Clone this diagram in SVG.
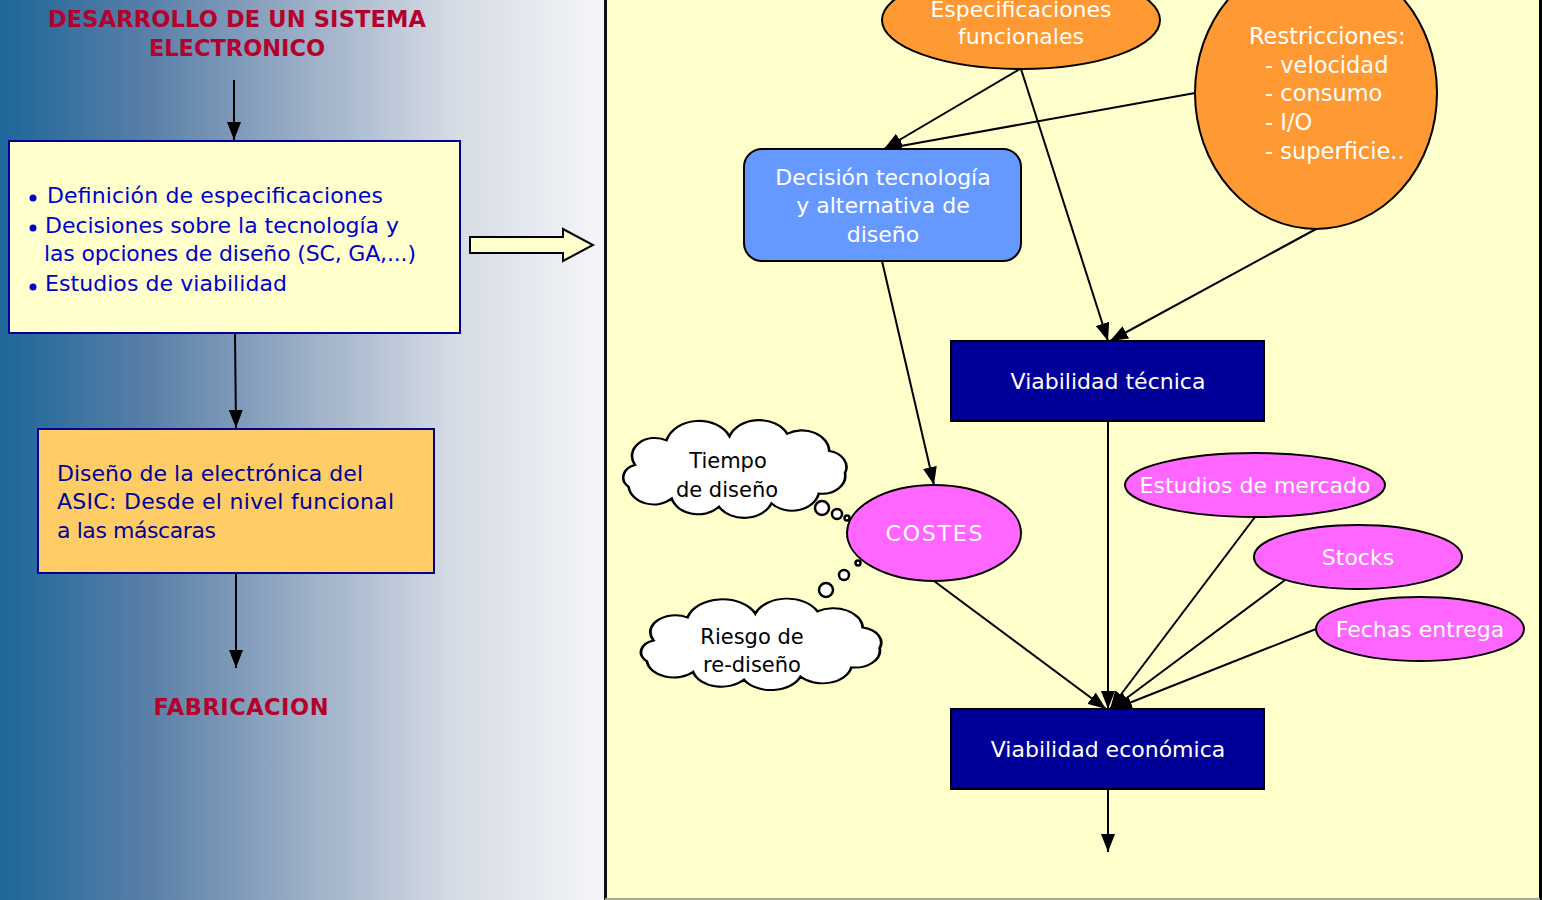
<svg xmlns="http://www.w3.org/2000/svg" width="1542" height="900" viewBox="0 0 1542 900">
<defs>
<linearGradient id="bg" x1="0" y1="0" x2="604" y2="0" gradientUnits="userSpaceOnUse">
<stop offset="0" stop-color="#1e6699"/>
<stop offset="0.25" stop-color="#5a80a8"/>
<stop offset="0.5" stop-color="#9aaec6"/>
<stop offset="0.75" stop-color="#d5dbe4"/>
<stop offset="1" stop-color="#f5f6f9"/>
</linearGradient>
<marker id="ah" markerUnits="userSpaceOnUse" markerWidth="18" markerHeight="14" refX="18" refY="7" orient="auto">
<path d="M0,0 L18,7 L0,14 z" fill="#000"/>
</marker>
<path id="cloud" d="M20,45 A22,22 0 0 1 50,15 A32,32 0 0 1 110,10 A30,30 0 0 1 165,7 A26,26 0 0 1 205,28 A20,20 0 0 1 220,55 A22,22 0 0 1 195,80 A26,26 0 0 1 150,92 A28,28 0 0 1 100,96 A26,26 0 0 1 55,86 A24,24 0 0 1 14,72 A16,16 0 0 1 20,45 Z"/>
</defs>
<style>
text{font-family:"DejaVu Sans","Noto Sans",sans-serif;}
.title{font-weight:bold;fill:#b3002d;font-size:22.5px;text-anchor:middle;}
.b1{fill:#0000cc;font-size:22px;}
.b2{fill:#000099;font-size:22px;}
.w{fill:#fff;font-size:22px;text-anchor:middle;}
.wl{fill:#fff;font-size:22.5px;}
.k{fill:#000;font-size:21px;text-anchor:middle;}
.c{stroke:#000;stroke-width:2;fill:none;marker-end:url(#ah);}
.orange{fill:#ff9933;stroke:#000;stroke-width:2;}
.pink{fill:#ff66ff;stroke:#000;stroke-width:2;}
.navy{fill:#000099;stroke:#000;stroke-width:2;}
.cl{fill:#fff;stroke:#000;stroke-width:2.5;}
</style>
<rect x="0" y="0" width="606" height="900" fill="url(#bg)"/>
<rect x="605" y="0" width="937" height="900" fill="#ffffcc"/>
<line x1="605.5" y1="0" x2="605.5" y2="900" stroke="#111" stroke-width="3"/>
<line x1="1540.5" y1="0" x2="1540.5" y2="900" stroke="#000" stroke-width="3"/>
<line x1="605" y1="899" x2="1540" y2="899" stroke="#aaa890" stroke-width="2"/>

<g id="connectors">
<line class="c" x1="234" y1="80" x2="234" y2="140"/>
<line class="c" x1="235" y1="334" x2="236" y2="428"/>
<line class="c" x1="236" y1="574" x2="236" y2="668"/>
<line class="c" x1="1020" y1="69" x2="884" y2="149"/>
<line class="c" x1="1195" y1="93" x2="884" y2="149"/>
<line class="c" x1="1021" y1="69" x2="1108" y2="341"/>
<line class="c" x1="1316" y1="229" x2="1110" y2="341"/>
<line class="c" x1="882" y1="261" x2="934" y2="485"/>
<line class="c" x1="1108" y1="421" x2="1108" y2="709"/>
<line class="c" x1="934" y1="581" x2="1106" y2="709"/>
<line class="c" x1="1255" y1="517" x2="1110" y2="709"/>
<line class="c" x1="1285" y1="580" x2="1112" y2="709"/>
<line class="c" x1="1316" y1="629" x2="1114" y2="709"/>
<line class="c" x1="1108" y1="789" x2="1108" y2="852"/>
</g>

<g id="title">
<text class="title" x="237" y="27" font-size="23" textLength="378">DESARROLLO DE UN SISTEMA</text>
<text class="title" x="237" y="56">ELECTRONICO</text>
</g>

<g id="box1">
<rect x="9" y="141" width="451" height="192" fill="#ffffcc" stroke="#000099" stroke-width="2"/>
<circle cx="33" cy="198" r="3.5" fill="#0000cc"/>
<circle cx="33" cy="228" r="3.5" fill="#0000cc"/>
<circle cx="33" cy="287" r="3.5" fill="#0000cc"/>
<text class="b1" x="47" y="203" textLength="336">Definición de especificaciones</text>
<text class="b1" x="45" y="233" textLength="354">Decisiones sobre la tecnología y</text>
<text class="b1" x="44" y="261" textLength="372">las opciones de diseño (SC, GA,...)</text>
<text class="b1" x="45" y="291" textLength="242">Estudios de viabilidad</text>
</g>

<g id="box2">
<rect x="38" y="429" width="396" height="144" fill="#ffcc66" stroke="#000099" stroke-width="2"/>
<text class="b2" x="57" y="481" textLength="306">Diseño de la electrónica del</text>
<text class="b2" x="57" y="509" textLength="337">ASIC: Desde el nivel funcional</text>
<text class="b2" x="57" y="538" textLength="159">a las máscaras</text>
</g>

<g id="fabricacion">
<text class="title" x="241" y="715" font-size="23" textLength="175">FABRICACION</text>
</g>

<g id="bigarrow">
<path d="M470,237 L563,237 L563,229 L593,245 L563,261 L563,253 L470,253 Z" fill="#ffffcc" stroke="#000" stroke-width="2"/>
</g>

<g id="especificaciones">
<ellipse class="orange" cx="1021" cy="20" rx="139" ry="49"/>
<text class="w" x="1021" y="17">Especificaciones</text>
<text class="w" x="1021" y="44">funcionales</text>
</g>

<g id="restricciones">
<ellipse class="orange" cx="1316" cy="93" rx="121" ry="136"/>
<text class="wl" x="1249" y="44">Restricciones:</text>
<text class="wl" x="1265" y="73">- velocidad</text>
<text class="wl" x="1265" y="101">- consumo</text>
<text class="wl" x="1265" y="130">- I/O</text>
<text class="wl" x="1265" y="159">- superficie..</text>
</g>

<g id="decision">
<rect x="744" y="149" width="277" height="112" rx="18" fill="#6699ff" stroke="#000" stroke-width="2"/>
<text class="w" x="883" y="185">Decisión tecnología</text>
<text class="w" x="883" y="213">y alternativa de</text>
<text class="w" x="883" y="242">diseño</text>
</g>

<g id="vtecnica">
<rect class="navy" x="951" y="341" width="313" height="80"/>
<text class="w" x="1108" y="389">Viabilidad técnica</text>
</g>

<g id="veconomica">
<rect class="navy" x="951" y="709" width="313" height="80"/>
<text class="w" x="1108" y="757">Viabilidad económica</text>
</g>

<g id="costes">
<ellipse class="pink" cx="934" cy="533" rx="87" ry="48"/>
<text class="w" x="934" y="541" font-size="23" textLength="97">COSTES</text>
</g>

<g id="mercado">
<ellipse class="pink" cx="1255" cy="485" rx="130" ry="32"/>
<text class="w" x="1255" y="493">Estudios de mercado</text>
</g>

<g id="stocks">
<ellipse class="pink" cx="1358" cy="557" rx="104" ry="32"/>
<text class="w" x="1358" y="565">Stocks</text>
</g>

<g id="fechas">
<ellipse class="pink" cx="1420" cy="629" rx="104" ry="32"/>
<text class="w" x="1420" y="637">Fechas entrega</text>
</g>

<g id="tiempo">
<use href="#cloud" class="cl" transform="translate(614,428) scale(1.05,0.82)"/>
<circle class="cl" cx="822" cy="508" r="7"/>
<circle class="cl" cx="837" cy="514" r="5"/>
<circle class="cl" cx="847" cy="518" r="2.5"/>
<text class="k" x="728" y="468">Tiempo</text>
<text class="k" x="727" y="497">de diseño</text>
</g>

<g id="riesgo">
<use href="#cloud" class="cl" transform="translate(631,606) scale(1.13,0.767)"/>
<circle class="cl" cx="826" cy="590" r="7"/>
<circle class="cl" cx="844" cy="575" r="5"/>
<circle class="cl" cx="858" cy="563" r="2.5"/>
<text class="k" x="752" y="644">Riesgo de</text>
<text class="k" x="752" y="672">re-diseño</text>
</g>
</svg>
